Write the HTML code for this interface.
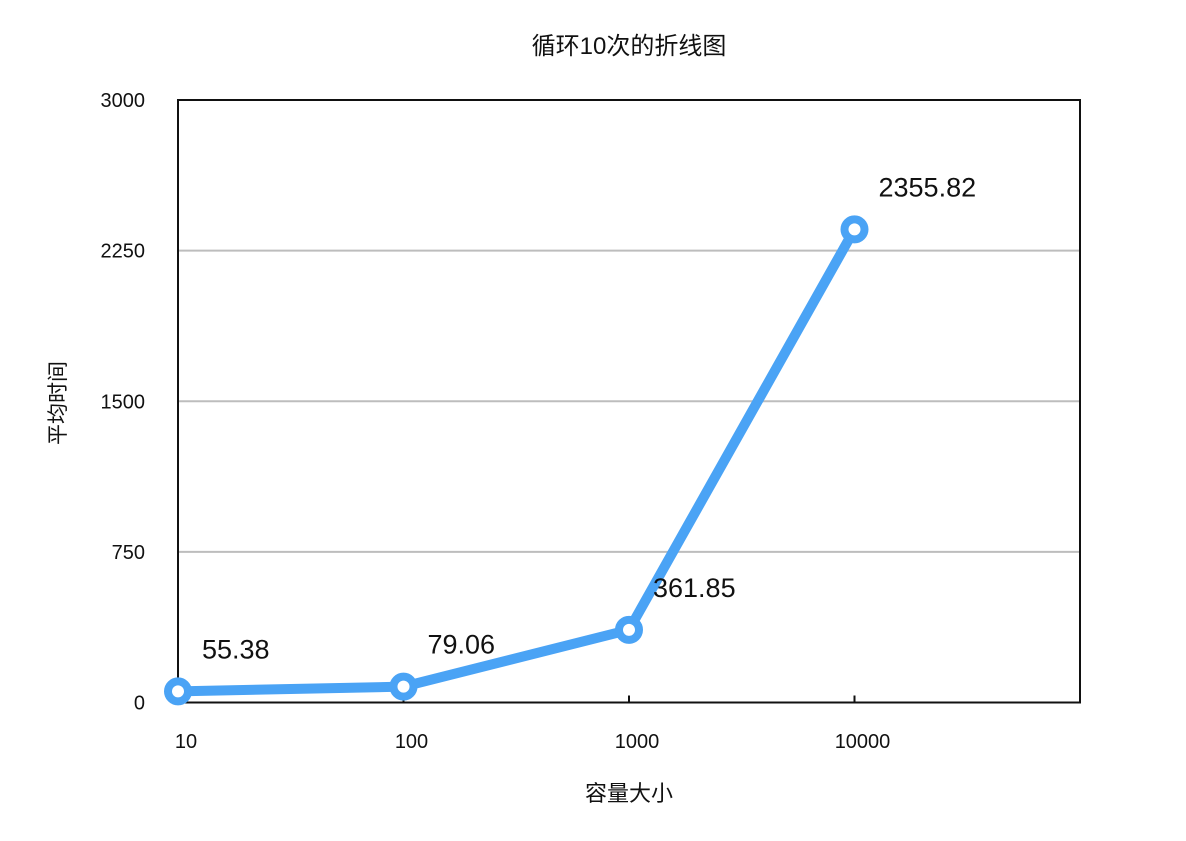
<!DOCTYPE html>
<html><head><meta charset="utf-8"><style>
body{margin:0;background:#fff;}
svg text{font-family:"Liberation Sans","Noto Sans CJK SC",sans-serif;fill:#111;}
</style></head><body>
<svg id="chart" width="1186" height="836" viewBox="0 0 1186 836" xmlns="http://www.w3.org/2000/svg">
<rect width="1186" height="836" fill="#fff"/>
<text x="629" y="54" font-size="24" text-anchor="middle">循环10次的折线图</text>
<text x="629" y="801" font-size="22" text-anchor="middle">容量大小</text>
<text transform="translate(65,403) rotate(-90)" font-size="21" text-anchor="middle">平均时间</text>
<g id="grid"></g>
<g id="axes"></g>
<g id="series"></g>
</svg>
<script>
const categories = ['10','100','1000','10000'];
const values = [55.38, 79.06, 361.85, 2355.82];
const valueLabels = ['55.38','79.06','361.85','2355.82'];
const yTicks = [0, 750, 1500, 2250, 3000];
const yTickLabels = ['0','750','1500','2250','3000'];
const yMax = 3000;

const L=178,R=1080,T=100,B=702.5;
const step=(R-L)/4;
const x=i=>L+i*step;
const y=v=>B-(v/yMax)*(B-T);
const NS='http://www.w3.org/2000/svg';
function mk(tag,attrs,parent){const e=document.createElementNS(NS,tag);for(const k in attrs)e.setAttribute(k,attrs[k]);parent.appendChild(e);return e;}
const grid=document.getElementById('grid'),axes=document.getElementById('axes'),series=document.getElementById('series');

yTicks.forEach((t,i)=>{
  if(t>0&&t<yMax){const g=mk('line',{x1:L,x2:R,y1:y(t),y2:y(t),stroke:'#bdbdbd','stroke-width':2},grid);
  
  }
  const tx=mk('text',{x:145,y:y(t)+7,'font-size':20,'text-anchor':'end'},axes);
  tx.textContent=yTickLabels[i];
  
  
});
const frame=mk('path',{d:`M${L},${B} L${L},${T} L${R},${T} L${R},${B} Z`,fill:'none',stroke:'#111','stroke-width':2},axes);


for(let i=0;i<=4;i++){
  const tk=mk('line',{x1:x(i),x2:x(i),y1:B,y2:B-7,stroke:'#111','stroke-width':2},axes);
  
  
}
categories.forEach((c,i)=>{
  const tx=mk('text',{x:x(i)+8,y:748,'font-size':20,'text-anchor':'middle'},axes);
  tx.textContent=c;
  
  
});
const pts=values.map((v,i)=>x(i)+','+y(v)).join(' ');
const pl=mk('polyline',{points:pts,fill:'none',stroke:'#4aa3f5','stroke-width':10,'stroke-linejoin':'round'},series);


values.forEach((v,i)=>{
  const c=mk('circle',{cx:x(i),cy:y(v),r:10,fill:'#fff',stroke:'#4aa3f5','stroke-width':8},series);
  
  
  const t=mk('text',{x:x(i)+24,y:y(v)-33,'font-size':27},series);
  t.textContent=valueLabels[i];
  
  
});
</script>
</body></html>
